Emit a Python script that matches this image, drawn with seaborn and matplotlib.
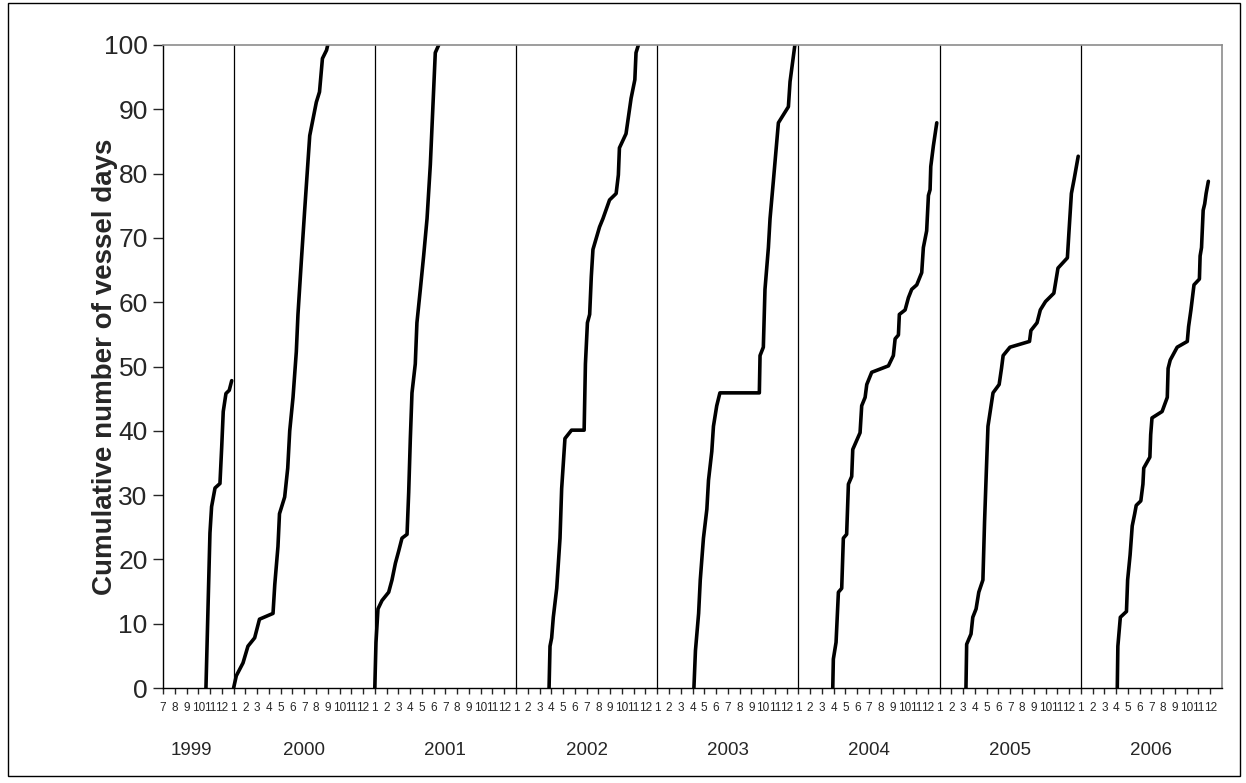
import matplotlib
matplotlib.use("Agg")
import matplotlib.pyplot as plt
import seaborn as sns
import pandas as pd
from matplotlib.patches import Rectangle
import matplotlib.transforms as mtransforms

# ---- data: month position within each year (0 = 1 Jan) and cumulative vessel days ----
m1999 = [9.65, 9.85, 9.99, 10.13, 10.42, 10.84, 10.99, 11.12, 11.35, 11.63, 11.84]
v1999 = [0, 14.2, 24.1, 28.2, 31.1, 31.8, 37.5, 43, 45.8, 46.3, 47.8]

m2000 = [0.0, 0.23, 0.8, 1.22, 1.79, 2.2, 3.35, 3.5, 3.77, 3.9, 4.34, 4.6, 4.77, 5.05,
         5.33, 5.47, 5.76, 6.04, 6.47, 6.75, 7.03, 7.3, 7.55, 7.9, 8.0]
v2000 = [0, 1.9, 3.9, 6.5, 7.8, 10.7, 11.6, 16.1, 22, 27.1, 29.7, 34.2, 40, 45.2,
         52.3, 58.1, 66.5, 74.3, 85.9, 88.5, 91.1, 92.7, 97.9, 99.2, 100]

m2001 = [0.0, 0.1, 0.27, 0.61, 1.18, 1.46, 1.75, 2.03, 2.31, 2.74, 2.88, 3.02, 3.16,
         3.44, 3.58, 3.87, 4.15, 4.44, 4.72, 4.86, 5.0, 5.14, 5.43]
v2001 = [0, 7.1, 12.3, 13.6, 14.9, 16.8, 19.4, 21.3, 23.3, 23.9, 30.4, 38.8, 45.9,
         50.4, 56.8, 62, 67.2, 73, 81.4, 87.2, 93, 98.8, 100]

m2002 = [2.81, 2.89, 3.03, 3.17, 3.46, 3.74, 3.88, 4.02, 4.16, 4.72, 5.79, 5.9, 6.07,
         6.26, 6.4, 6.54, 7.1, 7.39, 7.95, 8.51, 8.7, 8.79, 9.35, 9.78, 10.1, 10.2, 10.4]
v2002 = [0, 6.5, 7.8, 11, 15.5, 23.3, 31, 34.9, 38.8, 40.1, 40.1, 50.4, 56.8,
         58.1, 64, 68.2, 71.7, 73, 75.9, 76.9, 79.8, 84, 86.2, 91.7, 94.6, 98.8, 100]

m2003 = [3.12, 3.25, 3.52, 3.66, 3.93, 4.22, 4.36, 4.64, 4.78, 5.06, 5.33, 8.68, 8.74,
         9.02, 9.16, 9.45, 9.59, 9.87, 10.3, 11.15, 11.29, 11.7]
v2003 = [0, 5.8, 11.6, 16.8, 23.3, 27.8, 32.3, 36.8, 40.7, 43.9, 45.9, 45.9, 51.7,
         53, 62, 68.5, 73, 78.8, 87.9, 90.4, 94.3, 100]

m2004 = [2.92, 2.97, 3.2, 3.4, 3.68, 3.82, 4.1, 4.25, 4.53, 4.62, 5.24, 5.38, 5.67,
         5.81, 6.23, 7.65, 8.07, 8.22, 8.5, 8.58, 9.07, 9.35, 9.63, 10.06, 10.48,
         10.62, 10.9, 11.05, 11.19, 11.25, 11.47, 11.76]
v2004 = [0, 4.5, 7.1, 14.9, 15.5, 23.3, 23.9, 31.7, 32.9, 37.1, 39.7, 43.9, 45.2,
         47.2, 49.1, 50.1, 51.7, 54.3, 54.9, 58.1, 58.8, 60.7, 62, 62.7, 64.6,
         68.5, 71.1, 76.6, 77.5, 81.1, 84.3, 87.9]

m2005 = [2.24, 2.3, 2.67, 2.82, 3.1, 3.33, 3.68, 3.82, 3.97, 4.11, 4.54, 5.06, 5.26,
         5.4, 5.98, 7.64, 7.76, 8.28, 8.56, 9.0, 9.71, 10.06, 10.86, 11.0, 11.2,
         11.44, 11.78]
v2005 = [0, 6.8, 8.4, 11, 12.3, 14.9, 16.8, 25.8, 33.6, 40.7, 45.9, 47.2, 49.7,
         51.7, 53, 53.9, 55.6, 56.8, 58.8, 60.1, 61.4, 65.3, 66.9, 71.1, 76.9,
         79.2, 82.7]

m2006 = [3.1, 3.15, 3.36, 3.88, 3.98, 4.19, 4.37, 4.58, 4.71, 5.10, 5.28, 5.35, 5.87,
         5.94, 6.05, 6.91, 7.35, 7.42, 7.6, 8.19, 9.05, 9.16, 9.36, 9.62, 10.08,
         10.14, 10.26, 10.4, 10.53, 10.65, 10.84]
v2006 = [0, 6.5, 11, 11.9, 16.8, 20.7, 25.2, 27.1, 28.4, 29.1, 31.7, 34.2, 35.9,
         39.4, 42, 43, 45.2, 49.7, 51, 53, 53.9, 56.2, 58.8, 62.7, 63.6,
         67.2, 68.5, 74.3, 75.3, 76.9, 78.8]

years = [1999, 2000, 2001, 2002, 2003, 2004, 2005, 2006]
months_by_year = [m1999, m2000, m2001, m2002, m2003, m2004, m2005, m2006]
values_by_year = [v1999, v2000, v2001, v2002, v2003, v2004, v2005, v2006]

month_tick_labels = [str(k) for k in range(7, 13)] + [str(k) for k in range(1, 13)] * 7
year_label_pos = [8.4, 18, 30, 42, 54, 66, 78, 90]
ylabel = "Cumulative number of vessel days"

# ---- build long table ----
rows = []
for yr, ms, vs in zip(years, months_by_year, values_by_year):
    for i, (m, v) in enumerate(zip(ms, vs)):
        rows.append({"year": str(yr), "order": i, "M": 12 * (yr - 1999) + m, "value": v})
df = pd.DataFrame(rows)

sns.set_style("white")
plt.rcParams["font.family"] = ["Liberation Sans", "DejaVu Sans"]

W, H = 1246, 783
fig = plt.figure(figsize=(W / 100, H / 100), dpi=100)
ax = fig.add_axes([163 / W, 1 - 688 / H, (1222 - 163) / W, (688 - 45) / H])

sns.lineplot(data=df, x="M", y="value", hue="year", units="year", estimator=None,
             sort=False, palette=["black"] * len(years), legend=False,
             linewidth=2.6, solid_joinstyle="round", solid_capstyle="round", ax=ax)

# year separators
for k in range(1, len(years)):
    ax.axvline(12 * k, color="black", lw=0.9, zorder=1)

ax.set_xlim(6, 96)
ax.set_ylim(0, 100)
ax.set_xticks(list(range(6, 96)))
ax.set_xticklabels(month_tick_labels, fontsize=8.5)
ax.set_yticks(range(0, 101, 10))
ax.tick_params(axis="y", labelsize=19, length=7, width=1, direction="out", left=True, pad=4)
ax.tick_params(axis="x", length=4, width=1, direction="out", bottom=True, pad=6)
ax.set_xlabel("")
ax.set_ylabel(ylabel, fontsize=20, fontweight="bold")
ax.yaxis.label.set_va("center")
ax.yaxis.set_label_coords(-0.0548, 0.5)

for side in ["left", "bottom"]:
    ax.spines[side].set_color("black")
    ax.spines[side].set_linewidth(1)
for side in ["top", "right"]:
    ax.spines[side].set_color("#8c8c8c")
    ax.spines[side].set_linewidth(1.2)

trans = mtransforms.blended_transform_factory(ax.transData, ax.transAxes)
for yr, xp in zip(years, year_label_pos):
    ax.text(xp, -0.097, str(yr), transform=trans, ha="center", va="center", fontsize=13.5)

fig.patches.append(Rectangle((8 / W, 1 - 776 / H), (1240 - 8) / W, (776 - 3) / H,
                             transform=fig.transFigure, fill=False, edgecolor="black", lw=1))

fig.savefig("out.png", dpi=100, facecolor="white")
